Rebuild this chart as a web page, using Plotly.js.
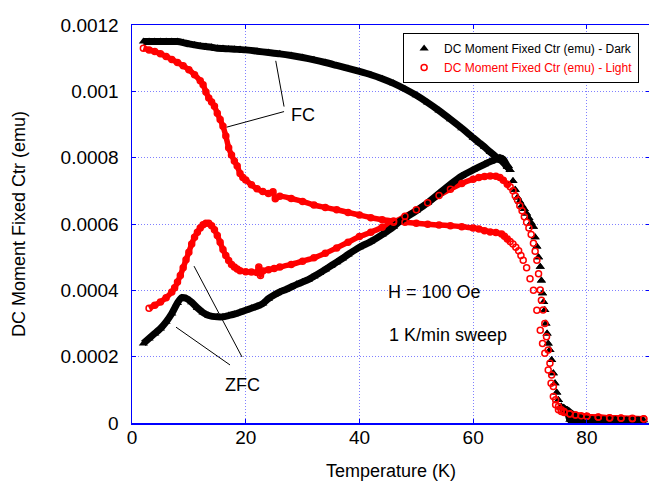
<!DOCTYPE html>
<html><head><meta charset="utf-8">
<script src="https://cdn.plot.ly/plotly-3.0.1.min.js"></script>
<style>html,body{margin:0;padding:0;overflow:hidden;background:#fff}</style>
</head><body>
<div id="chart" style="width:652px;height:487px"></div>
<script>
// Dark, field cooled
const darkFC_T = [2,3,4,5,6,7,8,9,10,11,12,13,14,15,16,17,18,19,20,22,24,26,28,30,32,34,36,38,40,42,44,46,48,50,52,54,56,58,60,61,62,63,64,65,66,66.5,67,67.4,67.8,68.2,68.6,69,69.4,69.8,70.2,70.6,70.9,71.2,71.5,71.8,72,72.2,72.4,72.6,72.8,73,73.2,73.5,73.8,74.1,74.4,74.7,75,75.5,76,76.5,77,77.5,78,79,80,81,82,83,84,85,86,87,88,89,90];
const darkFC_M = [0.00115,0.00115,0.00115,0.00115,0.00115,0.00115,0.00115,0.001147,0.001143,0.00114,0.001137,0.001135,0.001133,0.00113,0.001129,0.001128,0.001127,0.001126,0.001125,0.001121,0.001117,0.001113,0.001108,0.001102,0.001095,0.001087,0.001078,0.001069,0.00106,0.00105,0.001038,0.001024,0.001007,0.000988,0.000966,0.000942,0.000916,0.000889,0.00086,0.000846,0.000832,0.000817,0.000803,0.00079,0.000772,0.000763,0.00073,0.000703,0.00068,0.000668,0.000656,0.000645,0.000632,0.000618,0.000604,0.000592,0.00056,0.000532,0.0005,0.000471,0.00043,0.000391,0.000365,0.000341,0.0003,0.00027,0.00024,0.00022,0.00019,0.00015,0.00012,0.000092,0.000069,0.00005,0.000043,0.000039,0.000032,0.000026,0.00002,0.000014,0.000011,0.00001,0.00001,0.000009,0.000009,0.000009,0.000008,0.000008,0.000008,0.000008,0.000008];
// Dark, zero field cooled
const darkZFC_T = [2,3,4,5,6,7,8,8.7,9.5,10.5,11.5,12.5,13.5,15,16,17,18,19,20,21,22,23,24,25,26,27,28,29,30,31,32,33,34,35,36,37,38,40,42,44,46,47,48,50,52,54,56,58,60,62,63,64,64.7,65.3,66,66.5,67,67.4,67.8,68.2,68.6,69,69.4,69.8,70.2,70.6,70.9,71.2,71.5,71.8,72,72.2,72.4,72.6,72.8,73,73.2,73.5,73.8,74.1,74.4,74.7,75,75.5,76,76.5,77,78,79,80,81,82,83,84,85,86,87,88,89,90];
const darkZFC_M = [0.00024,0.000255,0.00027,0.000285,0.000305,0.00033,0.000362,0.000378,0.000376,0.000364,0.000347,0.000333,0.000324,0.00032,0.00032,0.000324,0.000328,0.000334,0.00034,0.000346,0.000352,0.00036,0.000375,0.000386,0.000395,0.000402,0.00041,0.000418,0.000425,0.000432,0.000442,0.000452,0.000463,0.000474,0.000485,0.000496,0.000508,0.00053,0.000547,0.000568,0.000592,0.000607,0.000618,0.00064,0.000664,0.000692,0.00072,0.000745,0.000763,0.00078,0.000788,0.000795,0.0008,0.000795,0.000775,0.000763,0.00073,0.000703,0.00068,0.000668,0.000656,0.000645,0.000632,0.000618,0.000604,0.000592,0.00056,0.000532,0.0005,0.000471,0.00043,0.000391,0.000365,0.000341,0.0003,0.00027,0.00024,0.00022,0.00019,0.00015,0.00012,0.000092,0.000069,0.00005,0.000043,0.000039,0.00001,0,0,0,0,0,0,0,0,0,0,0,0,0];
// Light, field cooled
const lightFC_T = [2,3,4,5,6,7,8,9,10,11,12,12.5,13,13.5,14,14.5,15,15.5,16,16.5,17,17.5,18,18.5,19,19.5,20,21,22,23,24,24.8,25.2,26,28,30,32,34,36,38,40,42,44,46,48,50,52,54,56,58,60,61,62,63,64,65,65.5,66,66.5,67,67.5,68,68.4,68.8,69.4,70,70.6,71.2,71.8,72.2,72.6,73.2,73.7,74.1,74.5,75,75.5,76,77,78,79,80,82,84,86,88,90];
const lightFC_M = [0.00113,0.001125,0.00112,0.001113,0.001105,0.001096,0.001087,0.001077,0.001065,0.00105,0.001032,0.00102,0.000998,0.00098,0.000968,0.000955,0.000934,0.000915,0.000895,0.000865,0.00083,0.000808,0.00079,0.000775,0.000752,0.00074,0.000733,0.000718,0.000706,0.000698,0.000692,0.000697,0.000676,0.000684,0.000677,0.000668,0.000657,0.00065,0.000643,0.000635,0.000627,0.000619,0.000613,0.000609,0.000605,0.000602,0.000599,0.000597,0.000595,0.000592,0.000588,0.000585,0.00058,0.000576,0.000574,0.00057,0.000563,0.000555,0.000547,0.00054,0.00053,0.000519,0.000505,0.000491,0.000468,0.000435,0.0004,0.00034,0.00028,0.00024,0.00021,0.00016,0.00012,0.00008,0.000055,0.00004,0.000035,0.000032,0.000027,0.000024,0.000022,0.00002,0.000018,0.000016,0.000015,0.000014,0.000013];
// Light, zero field cooled
const lightZFC_T = [3,4,5,6,7,7.5,8,8.5,9,9.5,10,10.5,11,11.5,12,12.5,13,13.5,14,14.5,15,15.5,16,16.5,17,17.5,18,18.5,19,20,21,22,22.3,22.6,23,24,25,26,28,30,32,34,36,38,40,42,44,46,48,50,52,54,56,58,60,61,62,63,64,64.7,65.3,66,66.5,67,67.4,67.8,68.2,68.6,69,69.4,69.8,70.2,70.6,70.9,71.2,71.5,71.8,72,72.3,72.6,72.9,73.2,73.5,73.8,74.1,74.5,75,75.5,76,77,78,80,82,84,86,88,90];
const lightZFC_M = [0.000346,0.000355,0.000365,0.000378,0.000395,0.000408,0.000425,0.000445,0.000468,0.000492,0.000515,0.00054,0.00056,0.000575,0.000588,0.000598,0.000602,0.000602,0.000595,0.000583,0.000565,0.000545,0.000523,0.000505,0.00049,0.000478,0.00047,0.000464,0.000459,0.000456,0.000455,0.000454,0.00047,0.000445,0.000458,0.000462,0.000466,0.00047,0.000478,0.000488,0.000498,0.000512,0.000528,0.000545,0.000562,0.000575,0.00059,0.000605,0.000623,0.000643,0.000664,0.000686,0.000705,0.000722,0.000735,0.00074,0.000743,0.000745,0.000744,0.00074,0.000732,0.00072,0.000712,0.0007,0.000685,0.000672,0.000655,0.00064,0.000622,0.000605,0.000588,0.000568,0.000542,0.000518,0.000491,0.00045,0.000401,0.00037,0.000341,0.0003,0.00026,0.00022,0.00018,0.000145,0.00011,0.00007,0.00005,0.00004,0.000035,0.000028,0.000024,0.00002,0.000017,0.000015,0.000014,0.000013,0.000012];

const yTickVals = [0,0.0002,0.0004,0.0006,0.0008,0.001,0.0012];
const yTickText = ['0','0.0002','0.0004','0.0006','0.0008','0.001','0.0012'];
const xTickVals = [0,20,40,60,80];

const darkName = 'DC Moment Fixed Ctr (emu) - Dark';
const lightName = '<span style="color:#ff0000">DC Moment Fixed Ctr (emu) - Light</span>';

function bandOnly(T, M){ return M.map((v,i)=> (T[i] > 66.6 && T[i] < 75.2) ? null : v); }

const blackMarker = {symbol:'triangle-up', size:8, color:'#000000'};
const redMarker = {symbol:'circle-open', size:6, color:'#ff0000', line:{width:1.5, color:'#ff0000'}};

const traces = [
  {x:lightFC_T, y:bandOnly(lightFC_T, lightFC_M), mode:'lines', line:{color:'#ff0000', width:5.5, shape:'spline', smoothing:0.6}, showlegend:false, hoverinfo:'skip'},
  {x:lightZFC_T, y:bandOnly(lightZFC_T, lightZFC_M), mode:'lines', line:{color:'#ff0000', width:5.5, shape:'spline', smoothing:0.6}, showlegend:false, hoverinfo:'skip'},
  {x:darkFC_T, y:bandOnly(darkFC_T, darkFC_M), mode:'lines', line:{color:'#000000', width:7, shape:'spline', smoothing:0.6}, showlegend:false, hoverinfo:'skip'},
  {x:darkZFC_T, y:bandOnly(darkZFC_T, darkZFC_M), mode:'lines', line:{color:'#000000', width:7, shape:'spline', smoothing:0.6}, showlegend:false, hoverinfo:'skip'},
  {x:darkFC_T, y:darkFC_M, mode:'markers', marker:blackMarker, name:darkName, legendrank:1},
  {x:darkZFC_T, y:darkZFC_M, mode:'markers', marker:blackMarker, name:darkName, showlegend:false},
  {x:lightFC_T, y:lightFC_M, mode:'markers', marker:redMarker, name:lightName, legendrank:2},
  {x:lightZFC_T, y:lightZFC_M, mode:'markers', marker:redMarker, name:lightName, showlegend:false}
];

const blue = '#0000ff';
const lineShape = (x0,y0,x1,y1)=>({type:'line', xref:'x', yref:'y', x0:x0, y0:y0, x1:x1, y1:y1, line:{color:'#000000', width:1}});

const fnt = 'Arial, "Liberation Sans", sans-serif';
const axisCommon = {
  showline:true, linecolor:blue, linewidth:1.5, mirror:'ticks',
  ticks:'inside', ticklen:4, tickcolor:blue, tickwidth:1,
  showgrid:true, gridcolor:'rgba(60,60,255,0.65)', griddash:'1px,2px', gridwidth:1,
  zeroline:false, tickfont:{family:fnt, size:19, color:'#000'}, automargin:false
};

const layout = {
  width:652, height:487,
  margin:{l:132, r:2, t:25, b:64},
  paper_bgcolor:'#fff', plot_bgcolor:'#fff',
  font:{family:fnt, color:'#000'},
  xaxis:Object.assign({}, axisCommon, {range:[0,91.1], tickmode:'array', tickvals:xTickVals,
    ticklabelstandoff:-3,
    title:{text:'Temperature (K)', font:{family:fnt, size:18}, standoff:17}}),
  yaxis:Object.assign({}, axisCommon, {range:[0,0.0012], tickmode:'array', tickvals:yTickVals, ticktext:yTickText,
    ticklabelstandoff:8,
    title:{text:'DC Moment Fixed Ctr (emu)', font:{family:fnt, size:18}, standoff:30}}),
  legend:{x:0.979, y:0.98, xanchor:'right', yanchor:'top', bgcolor:'#fff', bordercolor:'#000', borderwidth:1,
    font:{family:fnt, size:12, color:'#000'}, tracegroupgap:0, itemsizing:'trace'},
  shapes:[
    lineShape(25.28,0.001092,26.74,0.000954),
    lineShape(16.66,0.000892,26.74,0.000939),
    lineShape(10.91,0.000473,19.35,0.000199),
    lineShape(7.74,0.000289,17.24,0.000175)
  ],
  annotations:[
    {x:30.1, y:0.000929, xref:'x', yref:'y', text:'FC', showarrow:false, font:{family:fnt, size:18, color:'#000'}},
    {x:19.35, y:0.000115, xref:'x', yref:'y', text:'ZFC', showarrow:false, font:{family:fnt, size:18, color:'#000'}},
    {x:44.7, y:0.000395, xref:'x', yref:'y', text:'H = 100 Oe', xanchor:'left', showarrow:false, font:{family:fnt, size:18, color:'#000'}},
    {x:44.8, y:0.000265, xref:'x', yref:'y', text:'1 K/min sweep', xanchor:'left', showarrow:false, font:{family:fnt, size:18, color:'#000'}}
  ]
};

Plotly.newPlot('chart', traces, layout, {staticPlot:true, displayModeBar:false});
</script>
</body></html>
